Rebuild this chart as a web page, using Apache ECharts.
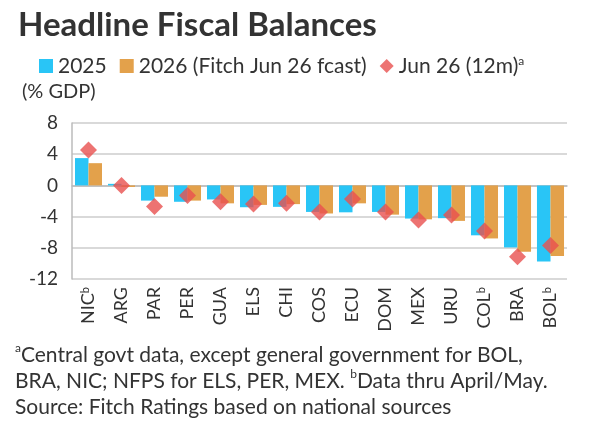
<!DOCTYPE html>
<html><head><meta charset="utf-8">
<script src="https://cdn.jsdelivr.net/npm/echarts@6/dist/echarts.min.js"></script>
<style>body{margin:0}#c{width:592px;height:428px}</style></head>
<body><div id="c"></div>
<script>
const categories=['NIC','ARG','PAR','PER','GUA','ELS','CHI','COS','ECU','DOM','MEX','URU','COL','BRA','BOL'];
const supB=['NIC','COL','BOL'];
const s2025=[3.5,0.2,-1.95,-2.1,-1.8,-2.8,-2.75,-3.4,-3.45,-3.4,-4.25,-4.2,-6.4,-7.95,-9.75];
const s2026=[2.85,-0.2,-1.45,-1.95,-2.3,-2.5,-2.4,-3.6,-2.3,-3.75,-4.35,-4.55,-6.8,-8.5,-9.05];
const jun26=[4.55,0,-2.7,-1.3,-2.1,-2.4,-2.3,-3.4,-1.75,-3.4,-4.45,-3.8,-5.85,-9.15,-7.7];
const yTicks=[8,4,0,-4,-8,-12];
const F='Lato';
const chart=echarts.init(document.getElementById('c'));
chart.setOption({
 textStyle:{fontFamily:F},
 title:{text:'Headline Fiscal Balances',left:13,top:4,textStyle:{fontFamily:F,fontSize:33,fontWeight:'bold',color:'#333'}},
 legend:{left:34,top:50,itemWidth:14,itemHeight:14,itemGap:13,textStyle:{fontFamily:F,fontSize:21,color:'#333',rich:{s:{fontSize:12,verticalAlign:'top',padding:[0,0,10,0]}}},
  formatter:n=>n==='Jun 26 (12m)'?'Jun 26 (12m){s|a}':n,
  data:[{name:'2025',icon:'rect'},{name:'2026 (Fitch Jun 26 fcast)',icon:'rect'},{name:'Jun 26 (12m)',icon:'diamond'}]},
 graphic:[
  {type:'text',left:22,top:82,style:{text:'(% GDP)',font:'20px Lato',fill:'#333'}},
  {type:'text',left:15,top:342,style:{rich:{s:{fontSize:12,verticalAlign:'top',fontFamily:F}},text:'{s|a}Central govt data, except general government for BOL,\nBRA, NIC; NFPS for ELS, PER, MEX. {s|b}Data thru April/May.\nSource: Fitch Ratings based on national sources',fontFamily:F,fontSize:21,lineHeight:26,fill:'#333'}}
 ],
 grid:{left:72,right:25,top:123,bottom:149},
 xAxis:{type:'category',data:categories,axisTick:{show:false},axisLine:{lineStyle:{color:'#bbb',width:1.5}},
  axisLabel:{rotate:90,fontSize:18,color:'#333',fontFamily:F,interval:0,margin:8,
   formatter:v=>supB.includes(v)?v+'{s|b}':v,rich:{s:{fontSize:11,verticalAlign:'top'}}}},
 yAxis:{type:'value',min:-12,max:8,interval:4,axisLine:{show:true,lineStyle:{color:'#bbb',width:1.5}},
  splitLine:{lineStyle:{color:'#ccc',width:1.5}},axisLabel:{fontSize:19,color:'#333',fontFamily:F,margin:14}},
 series:[
  {name:'2025',type:'bar',data:s2025,itemStyle:{color:'#29C5F6'},barWidth:'41%',barGap:'0%'},
  {name:'2026 (Fitch Jun 26 fcast)',type:'bar',data:s2026,itemStyle:{color:'#E3A14B'},barWidth:'41%'},
  {name:'Jun 26 (12m)',type:'scatter',data:jun26,symbol:'diamond',symbolSize:17,itemStyle:{color:'#E8504F'},z:5}
 ]
});
</script></body></html>
